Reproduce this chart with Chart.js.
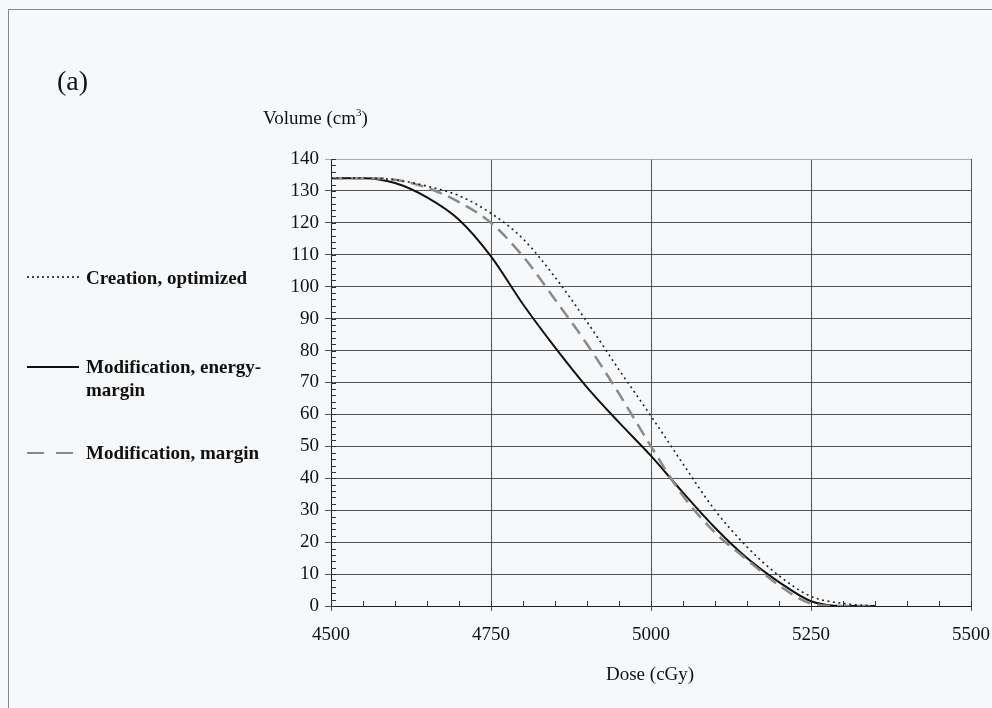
<!DOCTYPE html>
<html>
<head>
<meta charset="utf-8">
<script src="https://cdn.jsdelivr.net/npm/chart.js@4"></script>
<style>
  html, body { margin: 0; padding: 0; background: #f6f8fa; }
  body { width: 992px; height: 708px; position: relative; overflow: hidden; font-family: "Liberation Serif", "Times New Roman", serif; color: #111; }
  #frame { position: absolute; left: 8px; top: 9px; width: 1000px; height: 720px; border: 1px solid #888; }
  #wrap { position: absolute; left: 0; top: 0; width: 992px; height: 708px; }
  .txt { position: absolute; white-space: nowrap; }
  .leg { font-weight: bold; font-size: 19px; line-height: 23px; }
  .sample { position: absolute; width: 52px; height: 2px; }
</style>
</head>
<body>
<div id="frame"></div>
<div id="wrap"><canvas id="chart"></canvas></div>
<div class="txt" style="left:57px; top:65px; font-size:28px;">(a)</div>
<div class="txt" style="left:263px; top:106px; font-size:19px;">Volume (cm<sup style="font-size:11px; vertical-align:8px;">3</sup>)</div>
<div class="txt" style="left:606px; top:663px; font-size:19px;">Dose (cGy)</div>

<div class="sample" style="left:27px; top:276px; background:repeating-linear-gradient(to right, #444 0 2px, transparent 2px 5px);"></div>
<div class="txt leg" style="left:86px; top:266px;">Creation, optimized</div>
<div class="sample" style="left:27px; top:366px; background:#111;"></div>
<div class="txt leg" style="left:86px; top:355px;">Modification, energy-<br>margin</div>
<div class="sample" style="left:27px; top:452px; width:46px; background:repeating-linear-gradient(to right, #888 0 17px, transparent 17px 29px);"></div>
<div class="txt leg" style="left:86px; top:441px;">Modification, margin</div>

<script>
// Dosis (cGy) y volumen (cm3) de cada curva
const dose = [4500, 4550, 4600, 4650, 4700, 4750, 4800, 4850, 4900, 4950, 5000, 5050, 5100, 5150, 5200, 5250, 5300, 5350];
const creationOptimized = [134, 134, 133.5, 131.5, 128.5, 123, 115, 103, 89, 74, 59.5, 44.5, 30, 18.5, 9.5, 3, 0.8, 0];
const modEnergyMargin = [134, 134, 132.5, 128, 121, 109.5, 94.5, 81, 68.5, 57.5, 47, 35.5, 24.5, 15, 7.5, 1.5, 0, 0];
const modMargin = [134, 134, 133.5, 131, 126.5, 120, 109.5, 96, 82, 66.5, 50, 34.5, 23, 14.5, 6.5, 0.8, 0, 0];

const toPoints = (vals) => dose.map((d, i) => ({ x: d, y: vals[i] }));

//Marcas menores en los ejes
const minorTicks = {
  id: "minorTicks",
  afterDraw(chart) {
    const ctx = chart.ctx;
    const xs = chart.scales.x;
    const ys = chart.scales.y;
    const area = chart.chartArea;
    ctx.save();
    ctx.strokeStyle = "#333";
    ctx.lineWidth = 1;
    ctx.beginPath();
    for (let v = 0; v <= 140; v += 2) {
      const y = Math.round(ys.getPixelForValue(v)) + 0.5;
      ctx.moveTo(area.left, y);
      ctx.lineTo(area.left + 5, y);
    }
    for (let d = 4500; d <= 5500; d += 50) {
      const x = Math.round(xs.getPixelForValue(d)) + 0.5;
      ctx.moveTo(x, area.bottom);
      ctx.lineTo(x, area.bottom - 5);
    }
    ctx.stroke();
    ctx.restore();
  },
};

const tickFont = { family: "'Liberation Serif', 'Times New Roman', serif", size: 19 };

new Chart(document.getElementById("chart"), {
  type: "line",
  plugins: [minorTicks],
  data: {
    datasets: [
      {
        label: "Creation, optimized",
        data: toPoints(creationOptimized),
        borderColor: "#222",
        borderWidth: 1.6,
        borderDash: [2, 3.5],
      },
      {
        label: "Modification, margin",
        data: toPoints(modMargin),
        borderColor: "#8a8a8a",
        borderWidth: 2.5,
        borderDash: [13, 7],
      },
      {
        label: "Modification, energy-margin",
        data: toPoints(modEnergyMargin),
        borderColor: "#111",
        borderWidth: 2,
      },
    ],
  },
  options: {
    responsive: true,
    maintainAspectRatio: false,
    animation: false,
    layout: { padding: { left: 0, top: 159, right: 21, bottom: 0 } },
    elements: {
      point: { radius: 0 },
      line: { cubicInterpolationMode: "monotone" },
    },
    plugins: {
      legend: { display: false },
      tooltip: { enabled: false },
    },
    scales: {
      x: {
        type: "linear",
        min: 4500,
        max: 5500,
        afterFit: (scale) => {
          scale.height = 102;
          scale.paddingLeft = 0;
          scale.paddingRight = 0;
        },
        ticks: { stepSize: 250, color: "#111", font: tickFont, padding: 13, maxRotation: 0, callback: (v) => String(v) },
        grid: { color: "#555", lineWidth: 1, tickLength: 5 },
        border: { color: "#222", width: 1 },
      },
      y: {
        min: 0,
        max: 140,
        afterFit: (scale) => {
          scale.width = 331;
          scale.paddingTop = 0;
          scale.paddingBottom = 0;
        },
        ticks: { stepSize: 10, color: "#111", font: tickFont, padding: 6, callback: (v) => String(v) },
        grid: {
          color: (c) => (c.tick && c.tick.value === 140 ? "#aaa" : "#555"),
          lineWidth: 1,
          tickLength: 6,
        },
        border: { color: "#222", width: 1 },
      },
    },
  },
});
</script>
</body>
</html>
